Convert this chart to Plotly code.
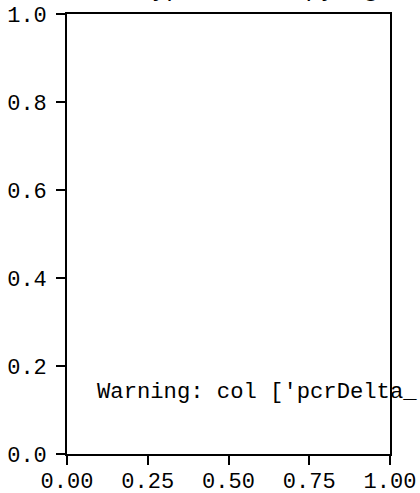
import plotly.graph_objects as go

x_ticks = [0.0, 0.25, 0.5, 0.75, 1.0]
y_ticks = [0.0, 0.2, 0.4, 0.6, 0.8, 1.0]
x_range = [0.0, 1.0]
y_range = [0.0, 1.0]
title_text = "Hypothesis of py log"
warning_text = "Warning: col ['pcrDelta_']"
warning_pos = (0.088, 0.139)

FONT = "Liberation Mono, DejaVu Sans Mono, monospace"

fig = go.Figure()
fig.add_trace(go.Scatter(x=[], y=[], mode="markers", showlegend=False))

axis_common = dict(
    showgrid=False, zeroline=False, showline=True, linecolor="black", linewidth=1.6,
    mirror=True, ticks="outside", ticklen=9, tickwidth=1.6, tickcolor="black",
    tickfont=dict(family=FONT, size=22, color="black"), automargin=False,
)
fig.update_xaxes(range=x_range, tickvals=x_ticks, tickformat=".2f",
                 ticklabelstandoff=-3, **axis_common)
fig.update_yaxes(range=y_range, tickvals=y_ticks, tickformat=".1f",
                 ticklabelstandoff=5, **axis_common)

fig.add_annotation(
    x=warning_pos[0], y=warning_pos[1], xref="x", yref="y", text=warning_text,
    showarrow=False, xanchor="left", yanchor="middle",
    font=dict(family=FONT, size=22.2, color="black"),
)
fig.add_annotation(
    x=0.2, y=1.022, xref="paper", yref="paper", text=title_text,
    showarrow=False, xanchor="left", yanchor="bottom",
    font=dict(family="DejaVu Sans", size=24, color="black"),
)

fig.update_layout(
    width=420, height=493,
    margin=dict(l=67, r=30, t=14, b=39, autoexpand=False),
    plot_bgcolor="white", paper_bgcolor="white",
)
fig.write_html("out.html", config={"displayModeBar": False},
               post_script="document.body.style.margin='0';")
